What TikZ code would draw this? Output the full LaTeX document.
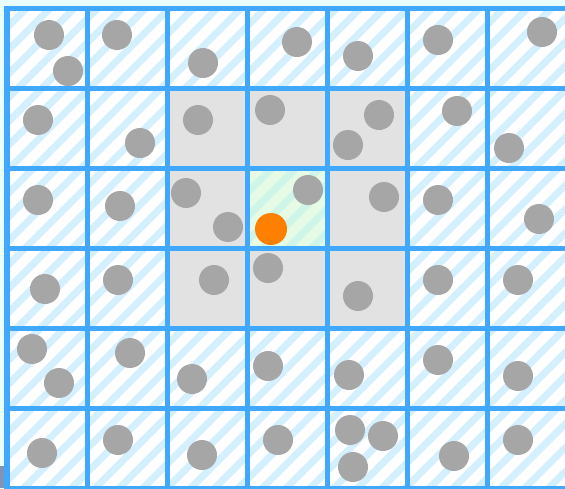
\documentclass[tikz,border=0pt]{standalone}
\usetikzlibrary{patterns.meta}
\definecolor{gridblue}{HTML}{40A9FF}
\definecolor{stripeblue}{HTML}{D4EFFD}
\definecolor{stripegreen}{HTML}{CFF4E8}
\definecolor{centergreen}{HTML}{E6FBE6}
\definecolor{nbgray}{HTML}{E2E2E2}
\definecolor{dotgray}{HTML}{A6A6A6}
\definecolor{dotorange}{HTML}{FF7F00}
\definecolor{paper}{HTML}{E8FEFF}
\definecolor{cornergray}{HTML}{8193B6}
\begin{document}
\begin{tikzpicture}[
    x=0.025cm, y=-0.025cm,
    hatch/.style={pattern={Lines[angle=45, distance=12pt, line width=5pt]}, pattern color=#1},
    grid_line/.style={draw=gridblue, line width=0.125cm},
    particle/.style={circle, fill=dotgray, minimum size=0.75cm, inner sep=0pt},
    query/.style={circle, fill=dotorange, minimum size=0.8cm, inner sep=0pt}
]
\useasboundingbox (0,0) rectangle (565,488);
\clip (0,0) rectangle (565,488);
\fill[paper] (0,0) rectangle (565,488);
\fill[cornergray] (0,466) rectangle (4,488);

% Zellen
\fill[white] (7,8) rectangle (647,488);
\fill[hatch=stripeblue] (7,8) rectangle (647,488);
\fill[nbgray] (167,88) rectangle (407,328);
\fill[centergreen] (247,168) rectangle (327,248);
\fill[hatch=stripegreen] (247,168) rectangle (327,248);

% Gitter
\foreach \i in {0,...,7}
    \draw[grid_line] (7+80*\i, 5.5) -- (7+80*\i, 570);
\foreach \j in {0,...,6}
    \draw[grid_line] (4.5, 8+80*\j) -- (650, 8+80*\j);

% Teilchen
\foreach \x/\y [count=\n] in {
    49/35, 68/71, 117/35, 203/63, 297/42, 358/56, 438/40, 542/32,
    38/120, 140/143, 198/120, 270/110, 379/115, 348/145, 457/111, 509/148,
    38/200, 120/206, 186/193, 228/227, 308/190, 384/197, 438/200, 539/219,
    45/289, 118/280, 214/280, 268/268, 358/296, 438/280, 518/280,
    32/349, 59/383, 130/353, 192/379, 268/366, 349/375, 438/360, 518/376,
    42/453, 118/440, 202/455, 278/440, 350/430, 383/436, 353/467, 454/456, 518/440}
    \node[particle] (p\n) at (\x,\y) {};
\node[query] (q) at (271,229) {};
\end{tikzpicture}
\end{document}
